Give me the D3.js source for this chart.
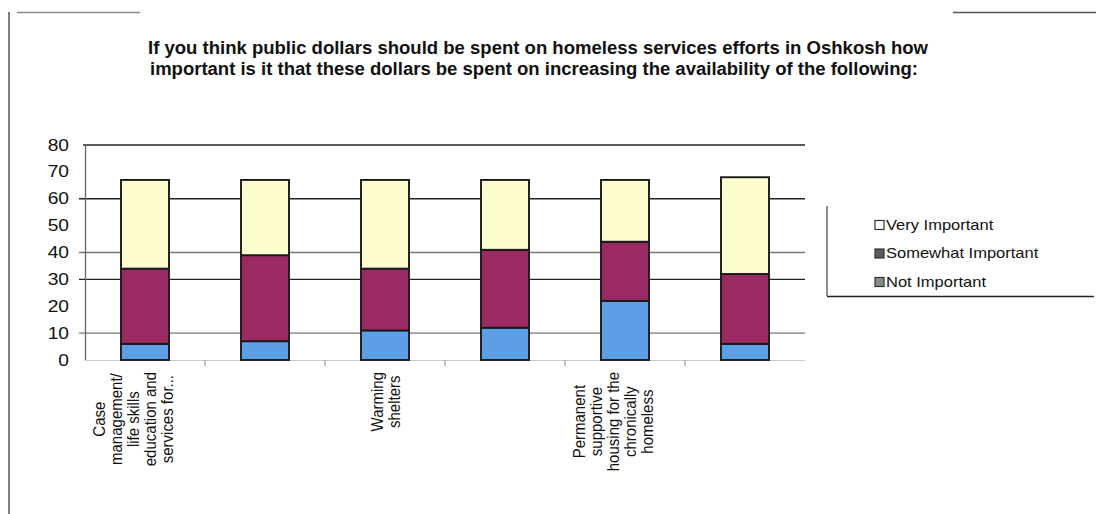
<!DOCTYPE html>
<html>
<head>
<meta charset="utf-8">
<script src="https://cdn.jsdelivr.net/npm/d3@7"></script>
<style>
  body { margin: 0; background: #fff; }
  svg { display: block; }
  text { font-family: "Liberation Sans", Arial, sans-serif; fill: #111; }
</style>
</head>
<body>
<svg id="chart" width="1096" height="514"></svg>
<script>
// Survey responses per service (count of respondents)
const tickLabels = [
  ["Case", "management/", "life skills", "education and", "services for..."],
  [],
  ["Warming", "shelters"],
  [],
  ["Permanent", "supportive", "housing for the", "chronically", "homeless"],
  []
];
const notImportant      = [6, 7, 11, 12, 22, 6];
const somewhatImportant = [28, 32, 23, 29, 22, 26];
const veryImportant     = [33, 28, 33, 26, 23, 36];

const seriesNames = ["Very Important", "Somewhat Important", "Not Important"];
const yTicks = [0, 10, 20, 30, 40, 50, 60, 70, 80];
const gridTicks = [10, 30, 40, 60, 80];

const titleLines = [
  "If you think public dollars should be spent on homeless services efforts in Oshkosh how",
  "important is it that these dollars be spent on increasing the availability of the following:"
];

const svg = d3.select("#chart");

// frame around the chart
const frame = svg.append("g").attr("stroke", "#555").attr("stroke-width", 1.5);
frame.append("line").attr("x1", 9).attr("x2", 9).attr("y1", 12).attr("y2", 514);
frame.append("line").attr("x1", 17).attr("x2", 140).attr("y1", 12.5).attr("y2", 12.5).attr("stroke", "#888");
frame.append("line").attr("x1", 953).attr("x2", 1096).attr("y1", 12.5).attr("y2", 12.5);

// title
svg.append("g").selectAll("text").data(titleLines).join("text")
  .attr("x", (d, i) => i === 0 ? 538 : 534)
  .attr("y", (d, i) => 54 + i * 21)
  .attr("text-anchor", "middle")
  .attr("font-size", 18)
  .attr("font-weight", "bold")
  .attr("textLength", (d, i) => i === 0 ? 780 : 768)
  .attr("lengthAdjust", "spacingAndGlyphs")
  .text(d => d);

// scales
const plot = { left: 85, right: 805, top: 145, bottom: 360 };
const x = d3.scaleBand().domain(d3.range(tickLabels.length))
  .range([plot.left, plot.right]).paddingInner(0.6).paddingOuter(0.3);
const y = d3.scaleLinear().domain([0, 80]).range([plot.bottom, plot.top]);

// horizontal text is drawn a little wide
function widen(sel, sx) {
  sel.attr("transform", function () {
    const tx = +this.getAttribute("x"), ty = +this.getAttribute("y");
    return `translate(${tx},${ty}) scale(${sx},1) translate(${-tx},${-ty})`;
  });
}

// gridlines
svg.append("g").selectAll("line").data(gridTicks).join("line")
  .attr("x1", d => d === 80 ? plot.left - 2 : plot.left - 6)
  .attr("x2", plot.right)
  .attr("y1", d => y(d)).attr("y2", d => y(d))
  .attr("stroke", d => (d === 40 || d === 10) ? "#777" : "#222")
  .attr("stroke-width", 1.4);

// y axis
const yAxis = svg.append("g").attr("transform", `translate(${plot.left},0)`)
  .call(d3.axisLeft(y).tickValues(yTicks).tickSize(0));
yAxis.select(".domain").attr("stroke", "#666").attr("stroke-width", 1.3);
yAxis.selectAll(".tick text")
  .attr("font-size", 16).attr("fill", "#111")
  .attr("font-family", "Liberation Sans, Arial, sans-serif")
  .attr("x", 0)
  .attr("transform", "translate(-16,0) scale(1.2,1)");

// x axis baseline and ticks between categories
const xAxisG = svg.append("g");
xAxisG.append("line").attr("x1", plot.left).attr("x2", plot.right)
  .attr("y1", plot.bottom + 0.5).attr("y2", plot.bottom + 0.5)
  .attr("stroke", "#ccc").attr("stroke-width", 1);
xAxisG.selectAll("line.tk").data(d3.range(1, tickLabels.length)).join("line")
  .attr("class", "tk")
  .attr("x1", i => x(i) - x.step() * x.paddingInner() / 2)
  .attr("x2", i => x(i) - x.step() * x.paddingInner() / 2)
  .attr("y1", plot.bottom).attr("y2", plot.bottom + 6)
  .attr("stroke", "#999").attr("stroke-width", 1.2);

// stacked bars
const rows = d3.range(tickLabels.length).map(i => ({
  idx: i, not: notImportant[i], somewhat: somewhatImportant[i], very: veryImportant[i]
}));
const keys = ["not", "somewhat", "very"];
const colors = { not: "#5d9fe6", somewhat: "#9b2a62", very: "#fdfdd0" };
const stacked = d3.stack().keys(keys)(rows);

svg.append("g").selectAll("g").data(stacked).join("g")
  .attr("fill", s => colors[s.key])
  .selectAll("rect").data(s => s).join("rect")
  .attr("x", d => x(d.data.idx))
  .attr("width", x.bandwidth())
  .attr("y", d => y(d[1]))
  .attr("height", d => y(d[0]) - y(d[1]))
  .attr("stroke", "#1a1a1a").attr("stroke-width", 1.9);

// category labels, rotated, lines centred within each block
const lineGap = 17;
const labelTop = 372;
const labelG = svg.append("g").attr("font-size", 15);
tickLabels.forEach((lines, i) => {
  if (!lines.length) return;
  const n = lines.length;
  const cx = x(i) + x.bandwidth() / 2 - 4 * (n - 2);
  const block = labelG.append("g");
  const texts = block.selectAll("text").data(lines).join("text")
    .attr("text-anchor", "middle")
    .attr("dominant-baseline", "central")
    .text(d => d);
  let maxLen = 0;
  texts.each(function () { maxLen = Math.max(maxLen, this.getComputedTextLength()); });
  const cy = labelTop + maxLen / 2;
  texts.attr("transform", (d, j) =>
    `translate(${cx - (n - 1) / 2 * lineGap + j * lineGap},${cy}) rotate(-90) scale(1,1.15)`);
});

// legend
const legend = svg.append("g");
legend.append("line").attr("x1", 827).attr("x2", 827).attr("y1", 206).attr("y2", 296)
  .attr("stroke", "#444").attr("stroke-width", 1.2);
legend.append("line").attr("x1", 827).attr("x2", 1094).attr("y1", 296.5).attr("y2", 296.5)
  .attr("stroke", "#222").attr("stroke-width", 1.5);
const swatch = { "Very Important": "#ffffff", "Somewhat Important": "#5a5a5a", "Not Important": "#8a8a8a" };
const item = legend.selectAll("g.item").data(seriesNames).join("g").attr("class", "item")
  .attr("transform", (d, i) => `translate(0,${i * 28.5})`);
item.append("rect").attr("x", 875).attr("y", 220.5).attr("width", 9).attr("height", 9)
  .attr("fill", d => swatch[d]).attr("stroke", "#333").attr("stroke-width", 1.2);
item.append("text").attr("x", 886).attr("y", 230).attr("font-size", 14)
  .text(d => d).call(widen, 1.18);
</script>
</body>
</html>
